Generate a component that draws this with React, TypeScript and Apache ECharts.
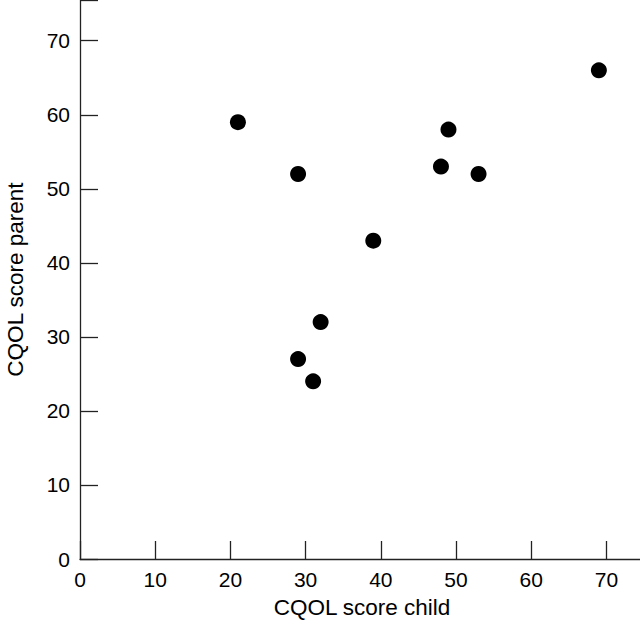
import React, { useEffect, useRef } from "react";
import * as echarts from "echarts";

const childScores = [21, 29, 29, 31, 32, 39, 48, 49, 53, 69];
const parentScores = [59, 52, 27, 24, 32, 43, 53, 58, 52, 66];
const xTicks = [0, 10, 20, 30, 40, 50, 60, 70];
const yTicks = [0, 10, 20, 30, 40, 50, 60, 70];
const xName = "CQOL score child";
const yName = "CQOL score parent";

export default function App() {
  const ref = useRef<HTMLDivElement>(null);
  useEffect(() => {
    const chart = echarts.init(ref.current!, null, { renderer: "svg" });
    const font = "Liberation Sans, Arial, Helvetica, sans-serif";
    const axisCommon = {
      type: "value" as const,
      min: 0,
      interval: 10,
      nameLocation: "middle" as const,
      nameTextStyle: { fontFamily: font, fontSize: 22.5, color: "#000" },
      axisLine: { show: true, lineStyle: { color: "#222", width: 1.3 } },
      axisTick: { show: true, inside: true, length: 18, lineStyle: { color: "#222", width: 1.3 } },
      splitLine: { show: false },
    };
    chart.setOption({
      animation: false,
      backgroundColor: "#fff",
      grid: { left: 80, top: 0, width: 564, height: 559, outerBoundsMode: "none", containLabel: false },
      xAxis: {
        ...axisCommon,
        max: 75,
        name: xName,
        nameGap: 37,
        axisLabel: {
          fontFamily: font,
          fontSize: 21,
          color: "#000",
          margin: 10,
          formatter: (v: number) => (xTicks.includes(v) ? String(v) : ""),
        },
      },
      yAxis: {
        ...axisCommon,
        max: 75.5,
        name: yName,
        nameGap: 53,
        axisLabel: {
          fontFamily: font,
          fontSize: 21,
          color: "#000",
          margin: 10,
          formatter: (v: number) => (yTicks.includes(v) ? String(v) : ""),
        },
      },
      series: [
        {
          type: "scatter",
          symbol: "circle",
          symbolSize: 16,
          itemStyle: { color: "#000", opacity: 1 },
          data: childScores.map((c, i) => [c, parentScores[i]]),
        },
      ],
    });
    return () => chart.dispose();
  }, []);
  return (
    <div
      ref={ref}
      style={{ position: "absolute", left: 0, top: 0, width: 640, height: 626 }}
    />
  );
}
